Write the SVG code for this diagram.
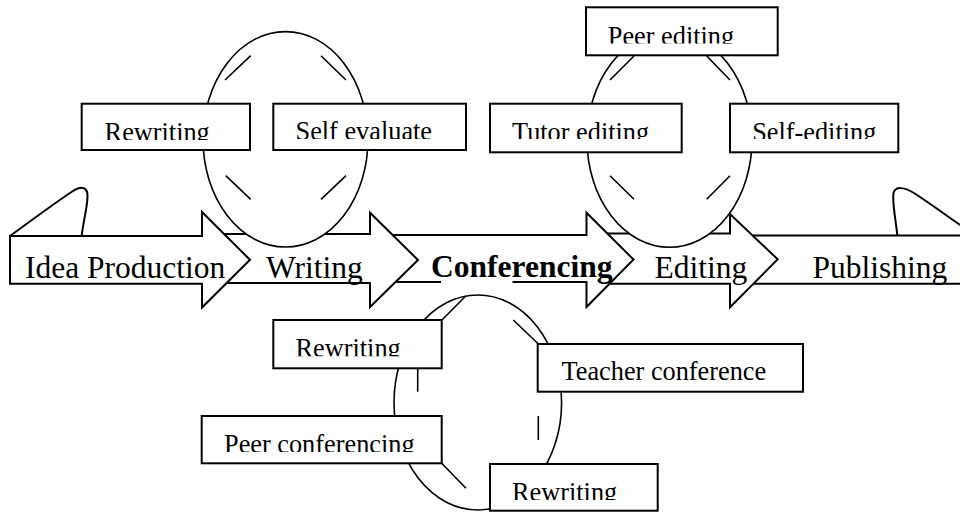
<svg xmlns="http://www.w3.org/2000/svg" width="960" height="512" viewBox="0 0 960 512">
<style>
.arrow{fill:#fff;stroke:#000;stroke-width:2;stroke-linejoin:miter}
.tear{fill:none;stroke:#000;stroke-width:2}
.big{font-family:"Liberation Serif","Times New Roman",serif;font-size:31.5px;fill:#000}
.bold{font-weight:bold}
.ell{fill:#fff;stroke:#000;stroke-width:1.6}
.tick{stroke:#000;stroke-width:1.6;fill:none}
.box{fill:#fff;stroke:#000;stroke-width:2}
.small{font-family:"Liberation Serif","Times New Roman",serif;font-size:26.3px;fill:#000}
</style>
<defs>
<clipPath id="c1"><rect x="82" y="104" width="168" height="36"/></clipPath>
<clipPath id="c2"><rect x="274" y="104" width="192" height="35"/></clipPath>
<clipPath id="c3"><rect x="587" y="8" width="190" height="35.5"/></clipPath>
<clipPath id="c4"><rect x="491" y="104" width="190" height="35"/></clipPath>
<clipPath id="c5"><rect x="731" y="104" width="167" height="35"/></clipPath>
<clipPath id="c6"><rect x="274" y="321" width="167" height="35.3"/></clipPath>
<clipPath id="c7"><rect x="538" y="345" width="265" height="35.5"/></clipPath>
<clipPath id="c8"><rect x="202" y="417" width="239" height="35"/></clipPath>
<clipPath id="c9"><rect x="491" y="465" width="166" height="35"/></clipPath>
</defs>

<g id="arrow-publishing">
<polygon class="arrow" points="745,235.5 990,235.5 990,283.7 745,283.7"/>
<path class="tear" d="M897.3,235 C895.5,218 892,202 893.5,193 C895.5,186 904,187 914,193 C934,206 955,222 975,235"/>
<text class="big" x="812.5" y="277.7">Publishing</text>
</g>
<g id="arrow-editing">
<polygon class="arrow" points="600,233.5 730,233.5 730,214 777.7,259.3 730,307.3 730,283.7 600,283.7"/>
<text class="big" x="654.5" y="277.7">Editing</text>
</g>
<g id="arrow-conferencing">
<polygon class="arrow" points="385,235 586.5,235 586.5,212.7 633.5,259.5 586.5,307 586.5,282 385,282"/>
<rect x="441" y="279" width="71.5" height="6" fill="#fff"/>
<text class="big bold" x="431" y="277">Conferencing</text>
</g>
<g id="arrow-writing">
<polygon class="arrow" points="215,234 370,234 370,212.7 418,260 370,307 370,283 215,283"/>
<text class="big" x="266" y="278">Writing</text>
</g>
<g id="arrow-idea">
<polygon class="arrow" points="10,236 202,236 202,212 250,259.8 202,307.5 202,283.7 10,283.7"/>
<path class="tear" d="M10,236 C40,214 62,198 73,191 C82,185.5 88,187 87.5,197 C87,210 83,222 81.7,236"/>
<text class="big" x="25" y="278.3">Idea Production</text>
</g>

<g id="cycle-writing"><ellipse class="ell" cx="285.5" cy="139.3" rx="82.5" ry="107.7"/></g>
<g id="cycle-editing"><ellipse class="ell" cx="669.5" cy="139.6" rx="82.5" ry="107.7"/></g>
<g id="cycle-conferencing"><ellipse class="ell" cx="477.8" cy="402.5" rx="83.8" ry="107.5"/></g>

<g id="connectors">
<line class="tick" x1="225" y1="80" x2="250.7" y2="55.7"/>
<line class="tick" x1="321" y1="55.7" x2="346" y2="80"/>
<line class="tick" x1="225.7" y1="175.7" x2="250.7" y2="199.3"/>
<line class="tick" x1="346" y1="175.7" x2="321" y2="199.3"/>
<line class="tick" x1="610" y1="80" x2="634" y2="56"/>
<line class="tick" x1="706.7" y1="56" x2="730" y2="80"/>
<line class="tick" x1="610" y1="175.7" x2="634" y2="199.3"/>
<line class="tick" x1="730" y1="175.7" x2="706.7" y2="199.3"/>
<line class="tick" x1="438" y1="324" x2="466" y2="295.7"/>
<line class="tick" x1="513.3" y1="320" x2="541" y2="346.5"/>
<line class="tick" x1="417.7" y1="366" x2="417.7" y2="391.7"/>
<line class="tick" x1="538.3" y1="416" x2="538.3" y2="440"/>
<line class="tick" x1="438.5" y1="460" x2="466" y2="488.3"/>
</g>

<g id="box-rewriting-1"><rect class="box" x="81.7" y="103.7" width="168.3" height="46.3"/><text class="small" x="104.6" y="141.4" clip-path="url(#c1)">Rewriting</text></g>
<g id="box-self-evaluate"><rect class="box" x="273.3" y="103.7" width="192.7" height="46.3"/><text class="small" x="295.5" y="140.1" clip-path="url(#c2)">Self evaluate</text></g>
<g id="box-peer-editing"><rect class="box" x="586" y="7.3" width="191.7" height="48"/><text class="small" x="607.8" y="44.7" clip-path="url(#c3)">Peer editing</text></g>
<g id="box-tutor-editing"><rect class="box" x="490" y="103.7" width="191.7" height="48.6"/><text class="small" x="512" y="140.7" clip-path="url(#c4)">Tutor editing</text></g>
<g id="box-self-editing"><rect class="box" x="730" y="103.7" width="168.3" height="48.6"/><text class="small" x="752.2" y="140.7" clip-path="url(#c5)">Self-editing</text></g>
<g id="box-rewriting-2"><rect class="box" x="273.3" y="320" width="168.4" height="48.3"/><text class="small" x="295.5" y="356.7" clip-path="url(#c6)">Rewriting</text></g>
<g id="box-teacher-conference"><rect class="box" x="537.7" y="344" width="265.3" height="47.7"/><text class="small" x="561.5" y="380.1" clip-path="url(#c7)">Teacher conference</text></g>
<g id="box-peer-conferencing"><rect class="box" x="201.7" y="416" width="240" height="47.3"/><text class="small" x="224" y="453.4" clip-path="url(#c8)">Peer conferencing</text></g>
<g id="box-rewriting-3"><rect class="box" x="490" y="464" width="167.7" height="46.7"/><text class="small" x="512" y="500.7" clip-path="url(#c9)">Rewriting</text></g>
</svg>
